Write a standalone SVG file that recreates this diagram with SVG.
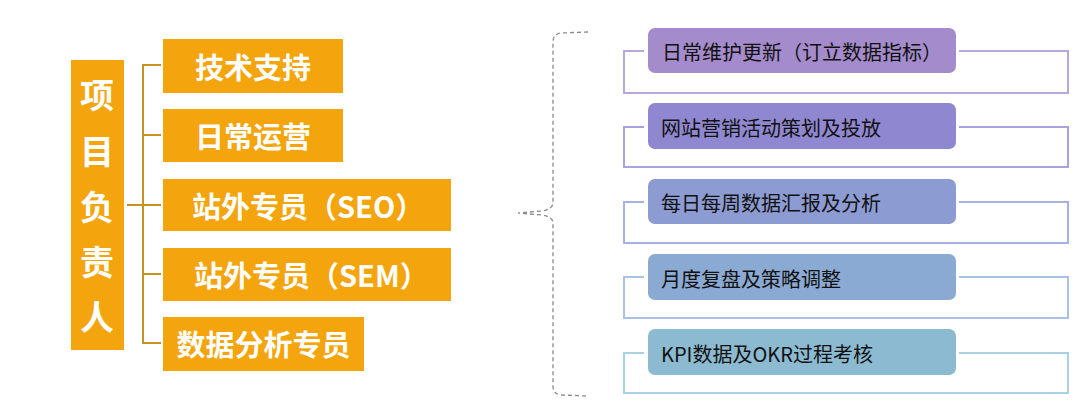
<svg xmlns="http://www.w3.org/2000/svg" width="1080" height="410" viewBox="0 0 1080 410">
<style>
.ob{fill:#F4A40C}
.lt{font-family:"Noto Sans CJK SC","Noto Sans",sans-serif;font-weight:bold;fill:#fff;font-size:29px;dominant-baseline:central}
.vt{font-family:"Noto Sans CJK SC",sans-serif;font-weight:bold;fill:#fff;font-size:34px;text-anchor:middle;dominant-baseline:central}
.rt{font-family:"Noto Sans CJK SC","Noto Sans",sans-serif;fill:#111;font-size:20px;dominant-baseline:central}
.tree{fill:none;stroke:#C8921E;stroke-width:2}
.brace{fill:none;stroke:#8a8a8a;stroke-width:1.3;stroke-dasharray:4 3}
.fr{fill:none;stroke-width:2}
</style>
<rect width="1080" height="410" fill="#fff"/>
<g id="connectors">
<path class="tree" d="M161,65 H143 V343 H161 M143,135 H161 M143,205 H161 M143,274 H161 M127,205 H143"/>
<path class="brace" d="M588,32 L561,33 Q553,34 553,42 L553,203 Q553,209 542,211 L518,213 L542,215 Q553,217 553,223 L553,386 Q553,394 561,395 L588,396"/>
<path class="fr" stroke="#B7A8DC" d="M644,51 H624 V93 H1068 V51 H959"/>
<path class="fr" stroke="#A7A3E0" d="M644,127 H624 V167 H1068 V127 H959"/>
<path class="fr" stroke="#A7B1E2" d="M644,202 H624 V243 H1068 V202 H959"/>
<path class="fr" stroke="#A8C1E5" d="M644,277 H624 V318 H1068 V277 H959"/>
<path class="fr" stroke="#A9D0E5" d="M644,353 H624 V393 H1068 V353 H959"/>
</g>
<g id="lead">
<rect class="ob" x="71" y="60" width="53" height="290"/>
<text class="vt" x="97" y="93">项</text>
<text class="vt" x="97" y="149">目</text>
<text class="vt" x="97" y="205">负</text>
<text class="vt" x="97" y="260">责</text>
<text class="vt" x="97" y="315">人</text>
</g>
<g id="tech"><rect class="ob" x="163" y="39" width="180" height="54"/><text class="lt" x="253" y="66" text-anchor="middle">技术支持</text></g>
<g id="ops"><rect class="ob" x="163" y="109" width="180" height="53"/><text class="lt" x="253" y="135" text-anchor="middle">日常运营</text></g>
<g id="seo"><rect class="ob" x="163" y="179" width="288" height="52"/><text class="lt" x="192" y="205">站外专员（SEO）</text></g>
<g id="sem"><rect class="ob" x="163" y="248" width="288" height="53"/><text class="lt" x="194" y="274">站外专员（SEM）</text></g>
<g id="data"><rect class="ob" x="163" y="317" width="201" height="54"/><text class="lt" x="263.5" y="343" text-anchor="middle">数据分析专员</text></g>
<g id="r1"><rect x="648" y="28" width="308" height="45" rx="7" fill="#A48BCB"/><text class="rt" x="662" y="51">日常维护更新（订立数据指标）</text></g>
<g id="r2"><rect x="648" y="103" width="308" height="46" rx="7" fill="#8F88D0"/><text class="rt" x="661" y="127">网站营销活动策划及投放</text></g>
<g id="r3"><rect x="648" y="179" width="308" height="45" rx="7" fill="#8C9BD1"/><text class="rt" x="661" y="202">每日每周数据汇报及分析</text></g>
<g id="r4"><rect x="648" y="254" width="308" height="46" rx="7" fill="#8BAAD3"/><text class="rt" x="661" y="278">月度复盘及策略调整</text></g>
<g id="r5"><rect x="648" y="329" width="308" height="46" rx="7" fill="#8BBAD1"/><text class="rt" x="661" y="353">KPI数据及OKR过程考核</text></g>
</svg>
